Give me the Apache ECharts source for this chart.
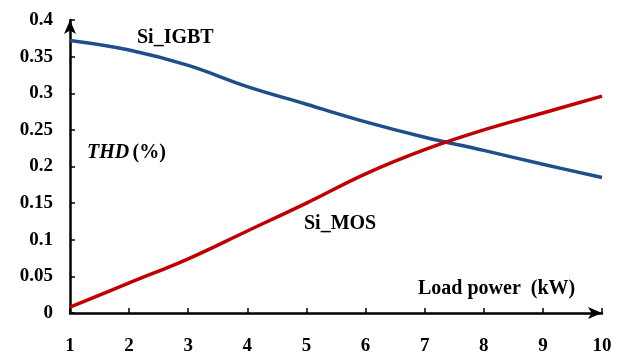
<!DOCTYPE html>
<html>
<head>
<meta charset="utf-8">
<script src="https://cdn.jsdelivr.net/npm/echarts@6/dist/echarts.min.js"></script>
<style>html,body{margin:0;padding:0;background:#fff}#c{width:622px;height:356px}</style>
</head>
<body>
<div id="c"></div>
<script>
var loadPower = [1, 2, 3, 4, 5, 6, 7, 8, 9, 10];
var siIGBT = [0.372, 0.359, 0.338, 0.309, 0.285, 0.261, 0.240, 0.222, 0.203, 0.185];
var siMOS = [0.008, 0.041, 0.074, 0.112, 0.150, 0.190, 0.223, 0.250, 0.273, 0.296];
var yTicks = ['0', '0.05', '0.1', '0.15', '0.2', '0.25', '0.3', '0.35', '0.4'];

var FONT = '"Liberation Serif", "Times New Roman", serif';
var chart = echarts.init(document.getElementById('c'));
function pairs(xs, ys) { return xs.map(function (x, i) { return [x, ys[i]]; }); }
chart.setOption({
  animation: false,
  grid: { left: 70, right: 20, top: 20, bottom: 40 },
  xAxis: {
    type: 'value', min: 1, max: 10, interval: 1,
    axisLine: { lineStyle: { color: '#000', width: 2.5 }, symbol: ['none', 'arrow'], symbolSize: [9, 14] },
    axisTick: { inside: true, length: 5, lineStyle: { color: '#000', width: 1.5 } },
    axisLabel: { color: '#000', fontFamily: FONT, fontWeight: 'bold', fontSize: 19, margin: 24 },
    splitLine: { show: false }
  },
  yAxis: {
    type: 'value', min: 0, max: 0.4, interval: 0.05,
    axisLine: { show: true, lineStyle: { color: '#000', width: 2.5 }, symbol: ['none', 'arrow'], symbolSize: [9, 14] },
    axisTick: { show: true, inside: true, length: 5, lineStyle: { color: '#000', width: 1.5 } },
    axisLabel: { color: '#000', fontFamily: FONT, fontWeight: 'bold', fontSize: 19, margin: 17,
      formatter: function (v, i) { return yTicks[i] !== undefined ? yTicks[i] : v; } },
    splitLine: { show: false }
  },
  series: [
    { name: 'Si_IGBT', type: 'line', smooth: 0.4, symbol: 'none', data: pairs(loadPower, siIGBT),
      lineStyle: { color: '#1f4e89', width: 3.5 } },
    { name: 'Si_MOS', type: 'line', smooth: 0.4, symbol: 'none', data: pairs(loadPower, siMOS),
      lineStyle: { color: '#c00000', width: 3.5 } }
  ],
  graphic: [
    { type: 'text', left: 137, top: 28, style: { text: 'Si_IGBT', font: 'bold 20px ' + FONT, fill: '#000' } },
    { type: 'text', left: 304, top: 214, style: { text: 'Si_MOS', font: 'bold 20px ' + FONT, fill: '#000' } },
    { type: 'text', left: 87, top: 143, style: {
      text: '{i|THD} {n|(%)}',
      rich: { i: { font: 'italic bold 20px ' + FONT, fill: '#000' }, n: { font: 'bold 20px ' + FONT, fill: '#000' } } } },
    { type: 'text', left: 418, top: 279, style: { text: 'Load power  (kW)', font: 'bold 20px ' + FONT, fill: '#000' } }
  ]
});
</script>
</body>
</html>
